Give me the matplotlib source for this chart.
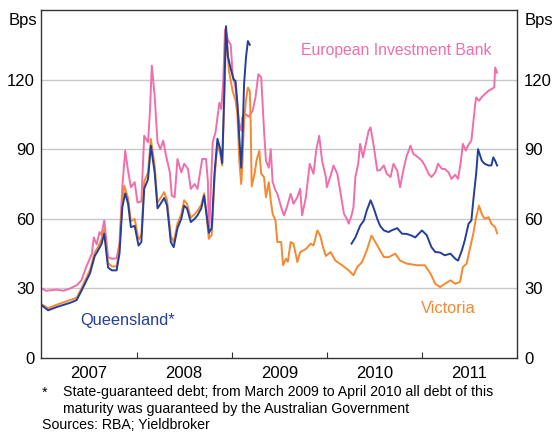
import matplotlib.pyplot as plt
import numpy as np

plt.rcParams['font.family'] = ['Liberation Sans', 'DejaVu Sans']

# decimal years and spreads (bps)
qld_t = [2007.00, 2007.07, 2007.16, 2007.30, 2007.37, 2007.42, 2007.51, 2007.56, 2007.59, 2007.63,
         2007.66, 2007.70, 2007.74, 2007.79, 2007.82, 2007.85, 2007.88, 2007.91, 2007.94, 2007.98,
         2008.02, 2008.05, 2008.08, 2008.12, 2008.15, 2008.19, 2008.22, 2008.26, 2008.29, 2008.32,
         2008.36, 2008.39, 2008.43, 2008.47, 2008.50, 2008.53, 2008.57, 2008.61, 2008.64, 2008.68,
         2008.71, 2008.76, 2008.79, 2008.82, 2008.85, 2008.88, 2008.90, 2008.92, 2008.94, 2008.96,
         2008.99, 2009.02, 2009.04, 2009.06, 2009.08, 2009.10, 2009.11, 2009.13, 2009.15, 2009.17,
         2009.19, 2009.20,
         2010.26, 2010.30, 2010.35, 2010.39, 2010.42, 2010.46, 2010.49, 2010.53, 2010.56, 2010.60,
         2010.65, 2010.68, 2010.74, 2010.79, 2010.84, 2010.89, 2010.93, 2011.00, 2011.05, 2011.10,
         2011.14, 2011.19, 2011.24, 2011.30, 2011.35, 2011.38, 2011.42, 2011.45, 2011.49, 2011.52,
         2011.54, 2011.57, 2011.59, 2011.63, 2011.66, 2011.70, 2011.73, 2011.75, 2011.77, 2011.79]
qld_v = [22.8, 20.6, 22.0, 23.8, 25.0, 29.0, 36.5, 44.0, 46.0, 49.0,
         53.6, 39.0, 37.8, 37.8, 45.0, 65.0, 71.0, 66.6, 56.4, 57.0,
         48.5, 50.0, 73.0, 77.0, 91.5, 80.0, 64.5, 67.0, 69.0, 65.7,
         50.0, 47.8, 56.0, 60.0, 65.7, 64.5, 58.6, 60.0, 61.5, 64.5,
         70.0, 54.0, 56.0, 80.0, 94.5, 90.0, 84.0, 112.0, 143.0, 130.0,
         124.6, 120.0, 119.5, 109.6, 95.0, 82.0, 91.0, 118.0, 129.5, 136.6,
         135.0, np.nan,
         49.3, 52.0, 57.0, 59.3, 63.6, 68.0, 65.0, 60.0, 57.0, 55.0,
         54.3, 55.0, 56.0, 53.6, 53.5, 52.8, 52.0, 55.0, 53.0, 47.8,
         45.7, 45.5, 44.3, 45.0, 42.8, 42.0, 46.4, 50.7, 57.9, 59.3,
         68.0, 79.5, 90.0, 85.0, 83.7, 83.0, 83.0, 86.5, 85.0, 83.0]

vic_t = [2007.00, 2007.07, 2007.16, 2007.30, 2007.37, 2007.42, 2007.51, 2007.56, 2007.59, 2007.63,
         2007.66, 2007.70, 2007.74, 2007.79, 2007.82, 2007.85, 2007.87, 2007.91, 2007.94, 2007.98,
         2008.02, 2008.05, 2008.08, 2008.12, 2008.15, 2008.19, 2008.22, 2008.26, 2008.29, 2008.32,
         2008.36, 2008.39, 2008.43, 2008.47, 2008.50, 2008.53, 2008.57, 2008.61, 2008.64, 2008.68,
         2008.71, 2008.76, 2008.79, 2008.82, 2008.85, 2008.88, 2008.90, 2008.92, 2008.94, 2008.97,
         2009.01, 2009.04, 2009.06, 2009.08, 2009.10, 2009.11, 2009.13, 2009.15, 2009.17, 2009.19,
         2009.20, 2009.21, 2009.24, 2009.25, 2009.26, 2009.29, 2009.31, 2009.34, 2009.36, 2009.39,
         2009.41, 2009.43, 2009.46, 2009.48, 2009.52, 2009.54, 2009.57, 2009.59, 2009.62, 2009.65,
         2009.69, 2009.72, 2009.78, 2009.83, 2009.86, 2009.90, 2009.93, 2009.96, 2009.99, 2010.04,
         2010.09, 2010.16, 2010.23, 2010.28, 2010.32, 2010.37, 2010.42, 2010.47, 2010.51, 2010.54,
         2010.60, 2010.65, 2010.72, 2010.77, 2010.84, 2010.95, 2011.03, 2011.09, 2011.14, 2011.19,
         2011.24, 2011.30, 2011.35, 2011.40, 2011.43, 2011.47, 2011.50, 2011.54, 2011.57, 2011.60,
         2011.63, 2011.66, 2011.70, 2011.73, 2011.77, 2011.79]
vic_v = [23.2, 21.5, 23.0, 25.0, 26.0, 30.0, 38.0, 45.5, 47.5, 51.0,
         55.5, 41.0, 39.5, 39.5, 47.0, 68.0, 74.3, 69.0, 59.0, 60.0,
         51.0, 53.0, 76.0, 80.0, 94.4, 83.0, 67.0, 69.5, 71.5, 68.0,
         52.5, 50.0, 58.0, 62.0, 68.0, 66.5, 60.5, 62.0, 63.5, 66.0,
         71.0, 51.6, 53.0, 78.0, 92.0, 88.0, 83.0, 108.0, 141.7, 123.8,
         115.0, 111.0, 105.0, 85.0, 75.0, 82.0, 102.0, 111.0, 116.6, 115.0,
         100.0, 74.0, 79.4, 82.0, 85.0, 89.4, 79.4, 78.0, 69.3, 75.8,
         68.0, 62.2, 59.3, 50.0, 50.0, 40.0, 42.8, 41.5, 50.0, 49.3,
         41.4, 45.7, 47.0, 49.3, 48.5, 55.0, 52.8, 47.8, 44.0, 45.7,
         42.0, 40.0, 37.8, 35.7, 39.2, 41.4, 46.4, 52.8, 50.0, 47.8,
         43.5, 43.5, 45.0, 42.0, 40.7, 40.0, 40.0, 36.4, 32.0, 30.6,
         32.0, 33.5, 32.0, 32.8, 39.2, 40.7, 46.4, 53.6, 60.7, 65.7,
         62.0, 60.0, 60.7, 57.9, 56.4, 53.8]

eib_t = [2007.00, 2007.05, 2007.16, 2007.23, 2007.30, 2007.37, 2007.42, 2007.47, 2007.53, 2007.55,
         2007.58, 2007.61, 2007.63, 2007.66, 2007.70, 2007.74, 2007.79, 2007.82, 2007.85, 2007.88,
         2007.91, 2007.94, 2007.98, 2008.01, 2008.05, 2008.08, 2008.12, 2008.14, 2008.16, 2008.19,
         2008.22, 2008.25, 2008.28, 2008.31, 2008.35, 2008.37, 2008.40, 2008.43, 2008.47, 2008.50,
         2008.54, 2008.57, 2008.61, 2008.64, 2008.69, 2008.73, 2008.75, 2008.76, 2008.80, 2008.83,
         2008.87, 2008.89, 2008.91, 2008.93, 2008.96, 2008.99, 2009.01, 2009.04, 2009.08, 2009.10,
         2009.11, 2009.15, 2009.18, 2009.22, 2009.25, 2009.28, 2009.31, 2009.34, 2009.36, 2009.39,
         2009.41, 2009.43, 2009.46, 2009.48, 2009.50, 2009.53, 2009.55, 2009.58, 2009.62, 2009.65,
         2009.69, 2009.72, 2009.74, 2009.78, 2009.82, 2009.86, 2009.89, 2009.92, 2009.95, 2009.99,
         2010.00, 2010.04, 2010.07, 2010.11, 2010.14, 2010.18, 2010.21, 2010.23, 2010.26, 2010.28,
         2010.30, 2010.33, 2010.35, 2010.38, 2010.41, 2010.44, 2010.46, 2010.49, 2010.53, 2010.56,
         2010.60, 2010.63, 2010.67, 2010.70, 2010.74, 2010.77, 2010.81, 2010.84, 2010.88, 2010.91,
         2010.96, 2011.00, 2011.03, 2011.07, 2011.10, 2011.14, 2011.17, 2011.21, 2011.24, 2011.28,
         2011.31, 2011.35, 2011.38, 2011.41, 2011.43, 2011.46, 2011.49, 2011.52, 2011.56, 2011.57,
         2011.60, 2011.63, 2011.66, 2011.70, 2011.73, 2011.76, 2011.77, 2011.79]
eib_v = [30.0, 29.0, 29.5, 29.0, 30.0, 31.4, 33.5, 39.2, 45.0, 52.0,
         49.0, 54.3, 53.0, 59.3, 43.5, 42.8, 43.0, 49.3, 73.6, 89.4,
         80.8, 73.6, 75.8, 67.0, 67.5, 95.8, 93.0, 105.8, 126.0, 113.0,
         93.0, 90.0, 93.7, 87.2, 80.0, 70.0, 69.3, 85.8, 80.0, 83.7,
         81.5, 72.9, 75.0, 72.9, 85.8, 85.8, 75.8, 51.4, 93.0, 97.3,
         110.0, 107.3, 118.7, 141.7, 137.0, 135.0, 122.0, 116.6, 100.8, 98.0,
         103.7, 105.0, 104.0, 106.6, 112.3, 122.3, 121.0, 98.0, 85.0, 82.0,
         90.0, 76.0, 72.2, 70.8, 67.9, 63.6, 61.5, 65.0, 70.8, 66.5,
         69.3, 72.9, 61.5, 69.3, 83.7, 79.4, 90.0, 95.8, 85.0, 78.0,
         73.6, 78.6, 83.0, 79.4, 72.2, 62.2, 60.0, 57.9, 61.5, 65.0,
         78.0, 83.7, 92.3, 86.5, 92.3, 98.0, 99.4, 92.3, 80.8, 81.0,
         83.0, 79.4, 78.0, 83.7, 80.8, 73.6, 82.0, 87.2, 91.5, 88.0,
         86.5, 85.0, 83.0, 79.4, 78.0, 80.0, 83.7, 81.5, 81.5, 80.0,
         77.2, 79.0, 77.2, 85.0, 92.3, 89.4, 92.0, 93.7, 109.4, 112.3,
         110.9, 112.5, 113.7, 115.2, 115.9, 116.6, 125.2, 123.0]

year_labels = ['2007', '2008', '2009', '2010', '2011']
yticks = [0, 30, 60, 90, 120]

pink = '#F06EAA'
blue = '#233F9A'
orange = '#F6882F'

fig = plt.figure(figsize=(5.53, 4.33), dpi=100)
ax = fig.add_axes([0.075, 0.173, 0.860, 0.804])

ax.plot(eib_t, eib_v, color=pink, lw=1.4)
ax.plot(vic_t, vic_v, color=orange, lw=1.4)
ax.plot(qld_t, qld_v, color=blue, lw=1.4)

ax.set_xlim(2007, 2012)
ax.set_ylim(0, 150)
ax.set_yticks(yticks)
ax.set_yticklabels([str(v) for v in yticks])
ax.tick_params(axis='y', length=0, labelsize=12, pad=5, labelright=True, right=False)
for v in yticks[1:]:
    ax.axhline(v, color='#C8C8C8', lw=1, zorder=0)

ax.set_xticks([2008, 2009, 2010, 2011])
ax.set_xticklabels([])
ax.set_xticks([y + 0.5 for y in range(2007, 2012)], minor=True)
ax.set_xticklabels(year_labels, minor=True)
ax.tick_params(axis='x', which='major', direction='in', length=4, color='#333333')
ax.tick_params(axis='x', which='minor', length=0, labelsize=12, pad=6)

for s in ax.spines.values():
    s.set_color('#333333')
    s.set_linewidth(1)

fig.text(0.042, 0.952, 'Bps', fontsize=12, ha='center', va='center')
fig.text(0.975, 0.952, 'Bps', fontsize=12, ha='center', va='center')

ax.text(2010.73, 132.4, 'European Investment Bank', color=pink, fontsize=11.3, ha='center', va='center')
ax.text(2007.91, 16.3, 'Queensland*', color=blue, fontsize=11.8, ha='center', va='center')
ax.text(2011.28, 21.5, 'Victoria', color=orange, fontsize=11.8, ha='center', va='center')

fig.text(0.076, 0.094, '*', fontsize=10.2, va='center')
fig.text(0.114, 0.094, 'State-guaranteed debt; from March 2009 to April 2010 all debt of this',
         fontsize=10.2, va='center')
fig.text(0.114, 0.055, 'maturity was guaranteed by the Australian Government', fontsize=10.2, va='center')
fig.text(0.076, 0.018, 'Sources: RBA; Yieldbroker', fontsize=10.2, va='center')

fig.savefig('out.png', dpi=100)
